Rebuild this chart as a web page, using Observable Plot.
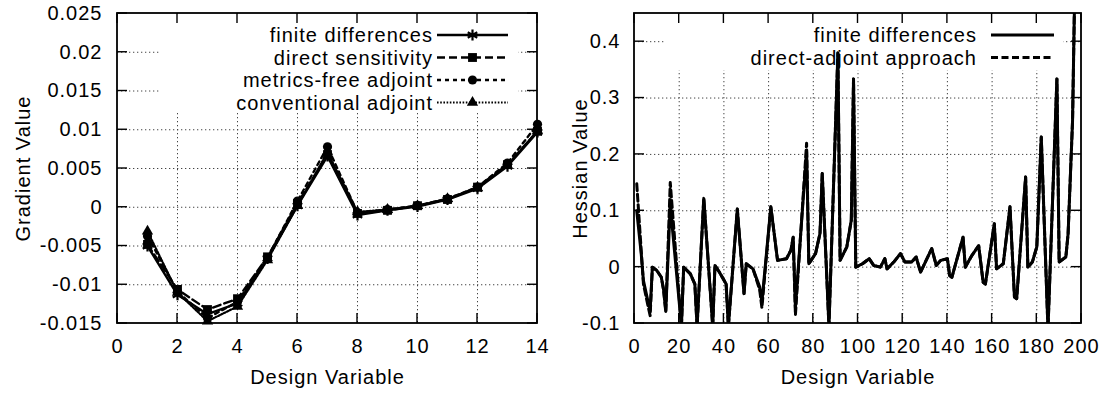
<!DOCTYPE html>
<html><head><meta charset="utf-8">
<script src="https://cdn.jsdelivr.net/npm/d3@7"></script>
<script src="https://cdn.jsdelivr.net/npm/@observablehq/plot@0.6"></script>
<style>
body{margin:0;background:#fff;}
#wrap{position:relative;width:1112px;height:394px;overflow:hidden;background:#fff;}
#left,#right{position:absolute;top:0;}
#left{left:0;} #right{left:556px;}
</style></head><body>
<div id="wrap"><div id="left"></div><div id="right"></div></div>
<script>
// ---------- data: gradient panel ----------
const gradX = [1,2,3,4,5,6,7,8,9,10,11,12,13,14];
const finiteDiff   = [-0.0050,-0.0113,-0.0138,-0.0124,-0.0066,0.0002,0.0066,-0.0010,-0.0004,0.0001,0.0010,0.0024,0.0053,0.0097];
const directSens   = [-0.0048,-0.0106,-0.0132,-0.0118,-0.0064,0.0005,0.0068,-0.0008,-0.0004,0.0002,0.0010,0.0026,0.0055,0.0098];
const metricsFree  = [-0.0037,-0.0109,-0.0143,-0.0122,-0.0065,0.0008,0.0078,-0.0007,-0.0003,0.0002,0.0011,0.0026,0.0057,0.0107];
const conventional = [-0.0031,-0.0110,-0.0147,-0.0128,-0.0068,0.0002,0.0071,-0.0006,-0.0003,0.0002,0.0011,0.0025,0.0054,0.0099];
const gradNames = ["finite differences","direct sensitivity","metrics-free adjoint","conventional adjoint"];
const gradTicksX = [0,2,4,6,8,10,12,14];
const gradTicksY = [-0.015,-0.01,-0.005,0,0.005,0.01,0.015,0.02,0.025];

// ---------- data: hessian panel ----------
const hessX = [1,3,4,6,7,8,10,12,13,14,16,21,22,25,27,28,31,35,36,38,41,42,46,49,50,53,56,57,61,64,68,70,71,72,77,78,81,83,84,87,91,92,95,97,98,99,102,105,107,110,112,113,116,119,121,124,126,128,133,135,137,140,141,142,147,148,151,154,156,157,161,162,165,168,170,171,175,176,178,180,182,185,189,190,193,194,196,197];
const hessFD = [0.100,0.024,-0.024,-0.060,-0.077,0.000,-0.006,-0.018,-0.040,-0.077,0.110,-0.105,0.000,-0.012,-0.030,-0.105,0.122,-0.105,0.003,-0.009,-0.030,-0.105,0.103,-0.047,0.006,-0.003,-0.035,-0.062,0.107,0.012,0.015,0.030,0.053,-0.072,0.205,0.006,0.024,0.060,0.166,-0.105,0.380,0.012,0.036,0.083,0.334,0.000,0.006,0.015,0.003,0.000,0.015,-0.003,0.009,0.024,0.009,0.009,0.018,-0.009,0.033,0.003,0.012,0.015,-0.015,-0.018,0.053,0.000,0.021,0.038,-0.027,-0.030,0.077,-0.003,0.006,0.107,-0.053,-0.056,0.160,0.000,0.009,0.036,0.231,-0.110,0.334,0.009,0.018,0.059,0.260,0.500];
const hessDA = [0.148,0.030,-0.030,-0.068,-0.086,0.000,-0.006,-0.018,-0.040,-0.080,0.150,-0.105,0.000,-0.012,-0.030,-0.105,0.122,-0.105,0.003,-0.009,-0.030,-0.105,0.103,-0.047,0.006,-0.003,-0.040,-0.072,0.107,0.012,0.015,0.030,0.053,-0.085,0.220,0.006,0.024,0.060,0.166,-0.105,0.380,0.012,0.036,0.083,0.334,0.000,0.006,0.015,0.003,0.000,0.015,-0.003,0.009,0.024,0.009,0.009,0.018,-0.009,0.033,0.003,0.012,0.015,-0.015,-0.018,0.053,0.000,0.021,0.038,-0.027,-0.030,0.077,-0.003,0.006,0.107,-0.053,-0.056,0.160,0.000,0.009,0.036,0.231,-0.110,0.334,0.009,0.018,0.059,0.260,0.500];
const hessNames = ["finite differences","direct-adjoint approach"];
const hessTicksX = [0,20,40,60,80,100,120,140,160,180,200];
const hessTicksY = [-0.1,0,0.1,0.2,0.3,0.4];

// ---------- styles ----------
const FONT = "'Liberation Sans', Arial, Helvetica, sans-serif";
const FONT_SIZE = "20px";
const LETTER_SPACING = "1px";
const gradStyles = [
  {dash: null,    symbol: "asterisk", r: 5.2, width: 2.4},
  {dash: "8,4",   symbol: "square",   r: 5,   width: 2.4},
  {dash: "4,4",   symbol: "circle",   r: 4.6, width: 2.4},
  {dash: "1.6,1.6", symbol: "triangle", r: 4.2, width: 2.2}
];
const hessStyles = [
  {dash: null,  width: 3},
  {dash: "7,3.5", width: 3}
];
const gradSeries = [finiteDiff, directSens, metricsFree, conventional];
const hessSeries = [hessFD, hessDA];

const gridStyle = {stroke: "#444", strokeOpacity: 1, strokeWidth: 1, strokeDasharray: "1.3,2.7"};
const plotStyle = {fontFamily: FONT, fontSize: FONT_SIZE, letterSpacing: LETTER_SPACING, color: "black", background: "white", overflow: "visible"};

function frameTicks(xt, yt, len) {
  return (index, scales, values, dims) => {
    const l = dims.marginLeft, t = dims.marginTop;
    const r = dims.width - dims.marginRight, b = dims.height - dims.marginBottom;
    const g = d3.create("svg:g").attr("stroke", "black").attr("fill", "none");
    for (const v of xt) {
      const x = scales.x(v);
      g.append("line").attr("x1", x).attr("x2", x).attr("y1", b).attr("y2", b - len).attr("stroke-width", 1.4);
      g.append("line").attr("x1", x).attr("x2", x).attr("y1", t).attr("y2", t + len).attr("stroke-width", 1.4);
    }
    for (const v of yt) {
      const y = scales.y(v);
      g.append("line").attr("y1", y).attr("y2", y).attr("x1", l).attr("x2", l + len).attr("stroke-width", 1.4);
      g.append("line").attr("y1", y).attr("y2", y).attr("x1", r).attr("x2", r - len).attr("stroke-width", 1.4);
    }
    g.append("rect").attr("x", l).attr("y", t).attr("width", r - l).attr("height", b - t).attr("stroke-width", 1.8);
    return g.node();
  };
}

function legendMark(names, styles, geom) {
  return (index, scales, values, dims) => {
    const l = dims.marginLeft, t = dims.marginTop, r = dims.width - dims.marginRight;
    const g = d3.create("svg:g");
    g.append("rect").attr("x", l + geom.boxLeft).attr("y", t + 1)
      .attr("width", (r - geom.boxRight) - (l + geom.boxLeft)).attr("height", geom.boxHeight).attr("fill", "white");
    names.forEach((name, i) => {
      const st = styles[i];
      const y = t + 22 + i * 22.5;
      g.append("text").attr("x", r - geom.textRight).attr("y", y).attr("dy", "0.35em")
        .attr("text-anchor", "end").attr("fill", "black").text(name);
      g.append("line").attr("x1", r - geom.s0).attr("x2", r - geom.s1).attr("y1", y).attr("y2", y)
        .attr("stroke", "black").attr("stroke-width", st.width)
        .attr("stroke-dasharray", st.dash);
      if (st.symbol) {
        const sym = {asterisk: d3.symbolAsterisk, square: d3.symbolSquare, circle: d3.symbolCircle, triangle: d3.symbolTriangle}[st.symbol];
        const p = g.append("path").attr("transform", `translate(${r - (geom.s0 + geom.s1) / 2},${y})`)
          .attr("d", d3.symbol(sym, st.r * st.r * Math.PI)());
        if (st.symbol === "asterisk") p.attr("fill", "none").attr("stroke", "black").attr("stroke-width", 2.2);
        else p.attr("fill", "black");
      }
    });
    return g.node();
  };
}

// ---------- left panel ----------
const gradRows = [];
gradSeries.forEach((vals, s) => vals.forEach((v, i) => gradRows.push({series: s, x: gradX[i], y: v})));

const left = Plot.plot({
  width: 556, height: 394,
  marginLeft: 117, marginRight: 19, marginTop: 13, marginBottom: 71,
  x: {domain: [0, 14]},
  y: {domain: [-0.015, 0.025]},
  style: plotStyle,
  marks: [
    Plot.gridX(gradTicksX.slice(1, -1), gridStyle),
    Plot.gridY(gradTicksY.slice(1, -1), gridStyle),
    legendMark(gradNames, gradStyles, {boxLeft: 43, boxRight: 19, boxHeight: 99, textRight: 104, s0: 100, s1: 29}),
    ...gradSeries.map((_, s) => Plot.line(gradRows.filter(d => d.series === s), {
      x: "x", y: "y", stroke: "black", strokeWidth: gradStyles[s].width,
      strokeDasharray: gradStyles[s].dash || undefined, clip: true})),
    ...gradSeries.map((_, s) => Plot.dot(gradRows.filter(d => d.series === s), {
      x: "x", y: "y", symbol: () => gradStyles[s].symbol, r: gradStyles[s].r,
      fill: gradStyles[s].symbol === "asterisk" ? "none" : "black",
      stroke: gradStyles[s].symbol === "asterisk" ? "black" : "none",
      strokeWidth: 2.2})),
    frameTicks(gradTicksX, gradTicksY, 10),
    Plot.axisX({ticks: gradTicksX, tickSize: 0, tickPadding: 15, tickFormat: d => String(d), label: null}),
    Plot.axisY({ticks: gradTicksY, tickSize: 0, tickPadding: 15, tickFormat: d => String(d), label: null}),
    Plot.text(["Design Variable"], {frameAnchor: "bottom", dy: 54, lineAnchor: "middle", textAnchor: "middle", text: d => d, fill: "black"}),
    Plot.text(["Gradient Value"], {frameAnchor: "left", dx: -94, rotate: -90, lineAnchor: "middle", textAnchor: "middle", text: d => d, fill: "black"})
  ]
});
document.getElementById("left").appendChild(left);

// ---------- right panel ----------
const hessRows = [];
hessSeries.forEach((vals, s) => vals.forEach((v, i) => hessRows.push({series: s, x: hessX[i], y: v})));

const right = Plot.plot({
  width: 556, height: 394,
  marginLeft: 78, marginRight: 31, marginTop: 13, marginBottom: 71,
  x: {domain: [0, 200]},
  y: {domain: [-0.1, 0.45]},
  style: plotStyle,
  marks: [
    Plot.gridX(hessTicksX.slice(1, -1), gridStyle),
    Plot.gridY(hessTicksY.slice(1), gridStyle),
    legendMark(hessNames, hessStyles, {boxLeft: 32, boxRight: 18, boxHeight: 56, textRight: 104, s0: 90, s1: 27}),
    ...hessSeries.map((_, s) => Plot.line(hessRows.filter(d => d.series === s), {
      x: "x", y: "y", stroke: "black", strokeWidth: hessStyles[s].width,
      strokeDasharray: hessStyles[s].dash || undefined, clip: true})),
    frameTicks(hessTicksX, hessTicksY, 10),
    Plot.axisX({ticks: hessTicksX, tickSize: 0, tickPadding: 15, tickFormat: d => String(d), label: null}),
    Plot.axisY({ticks: hessTicksY, tickSize: 0, tickPadding: 14, tickFormat: d => String(d), label: null}),
    Plot.text(["Design Variable"], {frameAnchor: "bottom", dy: 54, lineAnchor: "middle", textAnchor: "middle", text: d => d, fill: "black"}),
    Plot.text(["Hessian Value"], {frameAnchor: "left", dx: -54, rotate: -90, lineAnchor: "middle", textAnchor: "middle", text: d => d, fill: "black"})
  ]
});
document.getElementById("right").appendChild(right);
</script>
</body></html>
